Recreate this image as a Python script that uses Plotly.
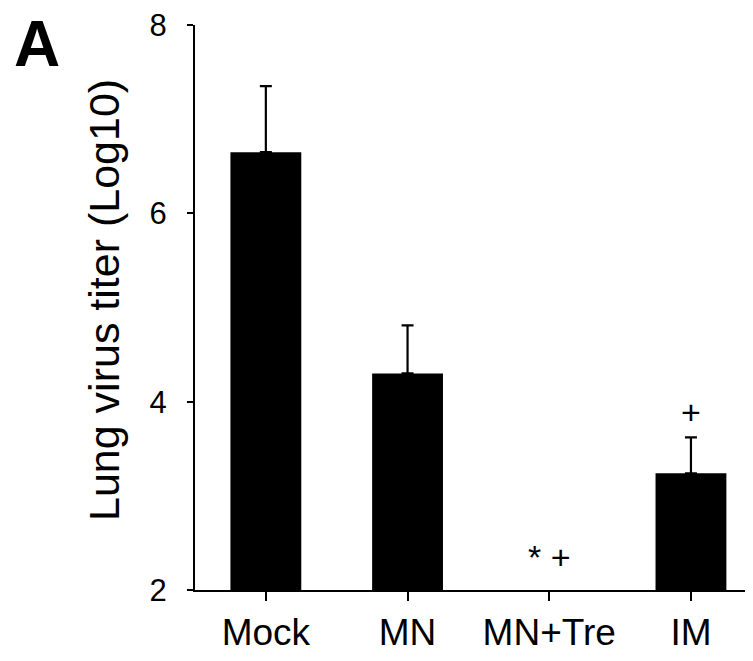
import plotly.graph_objects as go

categories = ["Mock", "MN", "MN+Tre", "IM"]
titer_mean = [6.65, 4.30, None, 3.24]
titer_err = [0.70, 0.51, None, 0.38]
y_ticks = [2, 4, 6, 8]
marks = ["", "", "* +", "+"]
mark_y = [None, None, 2.35, 3.89]

# page body has an 8px margin; work in screen coordinates and subtract it
OFF = 8
W, H = 753, 661
ax_left, ax_right, ax_top, ax_bottom = 195, 753, 25, 590  # screen px
L = ax_left - OFF
T = ax_top - OFF
R = W - (ax_right - OFF)
B = H - (ax_bottom - OFF)
pw = W - L - R
ph = H - T - B
cat_px = 141.7
x_hi = pw / cat_px - 0.5
y_min = 2


def px_to_paper(sx, sy):
    fx = sx - OFF
    fy = sy - OFF
    return (fx - L) / pw, (H - B - fy) / ph


fig = go.Figure()
fig.add_trace(go.Bar(
    x=list(range(len(categories))),
    y=[v - y_min if v is not None else None for v in titer_mean],
    base=y_min,
    width=0.5,
    marker=dict(color="black", line=dict(width=0)),
    error_y=dict(type="data", symmetric=False, array=titer_err,
                 arrayminus=[0 if e is not None else None for e in titer_err],
                 color="black", thickness=2.2, width=6),
    showlegend=False,
    cliponaxis=False,
))

for i, (m, yv) in enumerate(zip(marks, mark_y)):
    if m:
        fig.add_annotation(x=i, y=yv, xref="x", yref="y", text=m, showarrow=False,
                           font=dict(size=34, color="black", family="Liberation Sans, Arial"),
                           yanchor="middle", xanchor="center")

tx, ty = px_to_paper(104, 300)
fig.add_annotation(x=tx, y=ty, xref="paper", yref="paper",
                   text="Lung virus titer (Log10)", textangle=-90, showarrow=False,
                   font=dict(size=43, color="black", family="Liberation Sans, Arial"),
                   xanchor="center", yanchor="middle")
ax_, ay_ = px_to_paper(37, 44)
fig.add_annotation(x=ax_, y=ay_, xref="paper", yref="paper",
                   text="<b>A</b>", showarrow=False,
                   font=dict(size=64, color="black", family="Liberation Sans, Arial"),
                   xanchor="center", yanchor="middle")

fig.update_layout(
    width=W, height=H,
    margin=dict(l=L, r=R, t=T, b=B, pad=0, autoexpand=False),
    plot_bgcolor="white", paper_bgcolor="white",
    font=dict(family="Liberation Sans, Arial", color="black"),
)
fig.update_xaxes(
    range=[-0.5, x_hi], tickmode="array", tickvals=list(range(len(categories))),
    ticktext=categories, showline=True, linecolor="black", linewidth=2,
    ticks="outside", ticklen=9, tickwidth=2, tickcolor="black",
    showgrid=False, zeroline=False, tickfont=dict(size=37), automargin=False,
    ticklabeloverflow="allow",
)
fig.update_yaxes(
    range=[2, 8], tickmode="array", tickvals=y_ticks,
    showline=True, linecolor="black", linewidth=2,
    ticks="outside", ticklen=6, tickwidth=2, tickcolor="black",
    showgrid=False, zeroline=False, tickfont=dict(size=31),
    ticklabelstandoff=14, automargin=False, ticklabeloverflow="allow",
)

fig.write_html("out.html")
